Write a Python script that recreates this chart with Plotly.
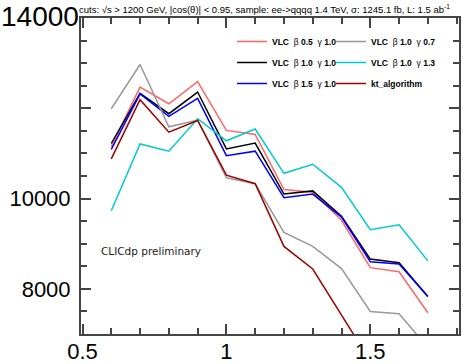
import plotly.graph_objects as go

x_vals = [0.6, 0.7, 0.8, 0.9, 1.0, 1.1, 1.2, 1.3, 1.4, 1.5, 1.6, 1.7]

vlc_b05_g10 = [11150, 12470, 12100, 12590, 11510, 11420, 10200, 10140, 9520, 8470, 8380, 7470]
vlc_b10_g07 = [11990, 12970, 11590, 11740, 10460, 10330, 9250, 8940, 8450, 7500, 7450, 6700]
vlc_b10_g10 = [11220, 12330, 11880, 12360, 11100, 11230, 10100, 10170, 9610, 8660, 8580, 7830]
vlc_b10_g13 = [9730, 11210, 11050, 11770, 11280, 11540, 10560, 10760, 10250, 9310, 9420, 8620]
vlc_b15_g10 = [11090, 12320, 11820, 12220, 10950, 11050, 10020, 10100, 9590, 8600, 8550, 7830]
kt_alg = [10880, 12190, 11470, 11730, 10520, 10330, 8940, 8440, 7420, 6400, 6000, 5700]

x_tick_vals = [0.5, 1.0, 1.5]
x_tick_text = ["0.5", "1", "1.5"]
y_tick_vals = [8000, 10000, 12000, 14000]
y_tick_text = ["8000", "10000", "", ""]
y_top_label = "14000"

title_text = ("cuts: √s > 1200 GeV, |cos(θ)| < 0.95, sample: ee->qqqq 1.4 TeV, "
              "σ: 1245.1 fb, L: 1.5 ab<sup>-1</sup>")

def lab(b, g):
    return f"<b>VLC</b>  β <b>{b}</b>  γ <b>{g}</b>"

series = [
    (lab("0.5", "1.0"), vlc_b05_g10, "#ff6666", "legend"),
    (lab("1.0", "1.0"), vlc_b10_g10, "#000000", "legend"),
    (lab("1.5", "1.0"), vlc_b15_g10, "#0000ff", "legend"),
    (lab("1.0", "0.7"), vlc_b10_g07, "#999999", "legend2"),
    (lab("1.0", "1.3"), vlc_b10_g13, "#00cccc", "legend2"),
    ("<b>kt_algorithm</b>", kt_alg, "#a00000", "legend2"),
]

fig = go.Figure()
for i, (name, vals, col, lg) in enumerate(series):
    fig.add_trace(go.Scatter(x=x_vals, y=vals, mode="lines", name=name,
                             line=dict(color=col, width=1.5),
                             legend=lg, legendgroup=f"g{i}"))

axcol = "#444444"
PW, PH, L, T = 378, 316, 81, 18
fig.update_layout(
    width=469, height=364,
    margin=dict(l=L, r=10, t=T, b=30),
    plot_bgcolor="white", paper_bgcolor="white",
    font=dict(family="Liberation Sans", color="black"),
    legend=dict(x=(232 - L) / PW, y=1 - (27 - T) / PH, xanchor="left", yanchor="top",
                bgcolor="rgba(0,0,0,0)", font=dict(size=8.5, family="Liberation Sans"),
                traceorder="grouped", tracegroupgap=2, itemwidth=30),
    legend2=dict(x=(331 - L) / PW, y=1 - (27 - T) / PH, xanchor="left", yanchor="top",
                 bgcolor="rgba(0,0,0,0)", font=dict(size=8.5, family="Liberation Sans"),
                 traceorder="grouped", tracegroupgap=2, itemwidth=30),
    xaxis=dict(range=[0.4948, 1.8082], showline=True, linecolor=axcol, linewidth=2,
               mirror="ticks", ticks="inside", ticklen=10, tickwidth=2, tickcolor=axcol,
               tickvals=x_tick_vals, ticktext=x_tick_text, showgrid=False, zeroline=False,
               tickfont=dict(size=22, family="Liberation Sans", color="black"),
               ticklabelstandoff=-3, automargin=False,
               minor=dict(ticks="inside", dtick=0.1, tick0=0.5, ticklen=6, tickwidth=1.5,
                          tickcolor=axcol, showgrid=False)),
    yaxis=dict(range=[7000, 14000], showline=True, linecolor=axcol, linewidth=2,
               mirror="ticks", ticks="inside", ticklen=10, tickwidth=2, tickcolor=axcol,
               tickvals=y_tick_vals, ticktext=y_tick_text, showgrid=False, zeroline=False,
               tickfont=dict(size=22, family="Liberation Sans", color="black"),
               ticklabelstandoff=4, automargin=False,
               minor=dict(ticks="inside", dtick=500, tick0=7000, ticklen=6, tickwidth=1.5,
                          tickcolor=axcol, showgrid=False)),
    annotations=[
        dict(text=y_top_label, xref="paper", yref="y", x=0, y=y_tick_vals[-1],
             xanchor="right", yanchor="middle", xshift=0, yshift=2, showarrow=False,
             font=dict(size=28, family="Liberation Sans", color="black")),
        dict(text=title_text, xref="paper", yref="paper", x=0, y=1, xanchor="left",
             yanchor="bottom", xshift=-4, yshift=1, showarrow=False,
             font=dict(size=9.5, family="Liberation Sans", color="black")),
        dict(text="CLICdp preliminary", xref="paper", yref="paper",
             x=(102 - L) / PW, y=1 - (251 - T) / PH, xanchor="left", yanchor="middle",
             xshift=-3, showarrow=False,
             font=dict(size=10.5, family="DejaVu Sans", color="#222222")),
    ],
)

fig.write_html("out.html")
